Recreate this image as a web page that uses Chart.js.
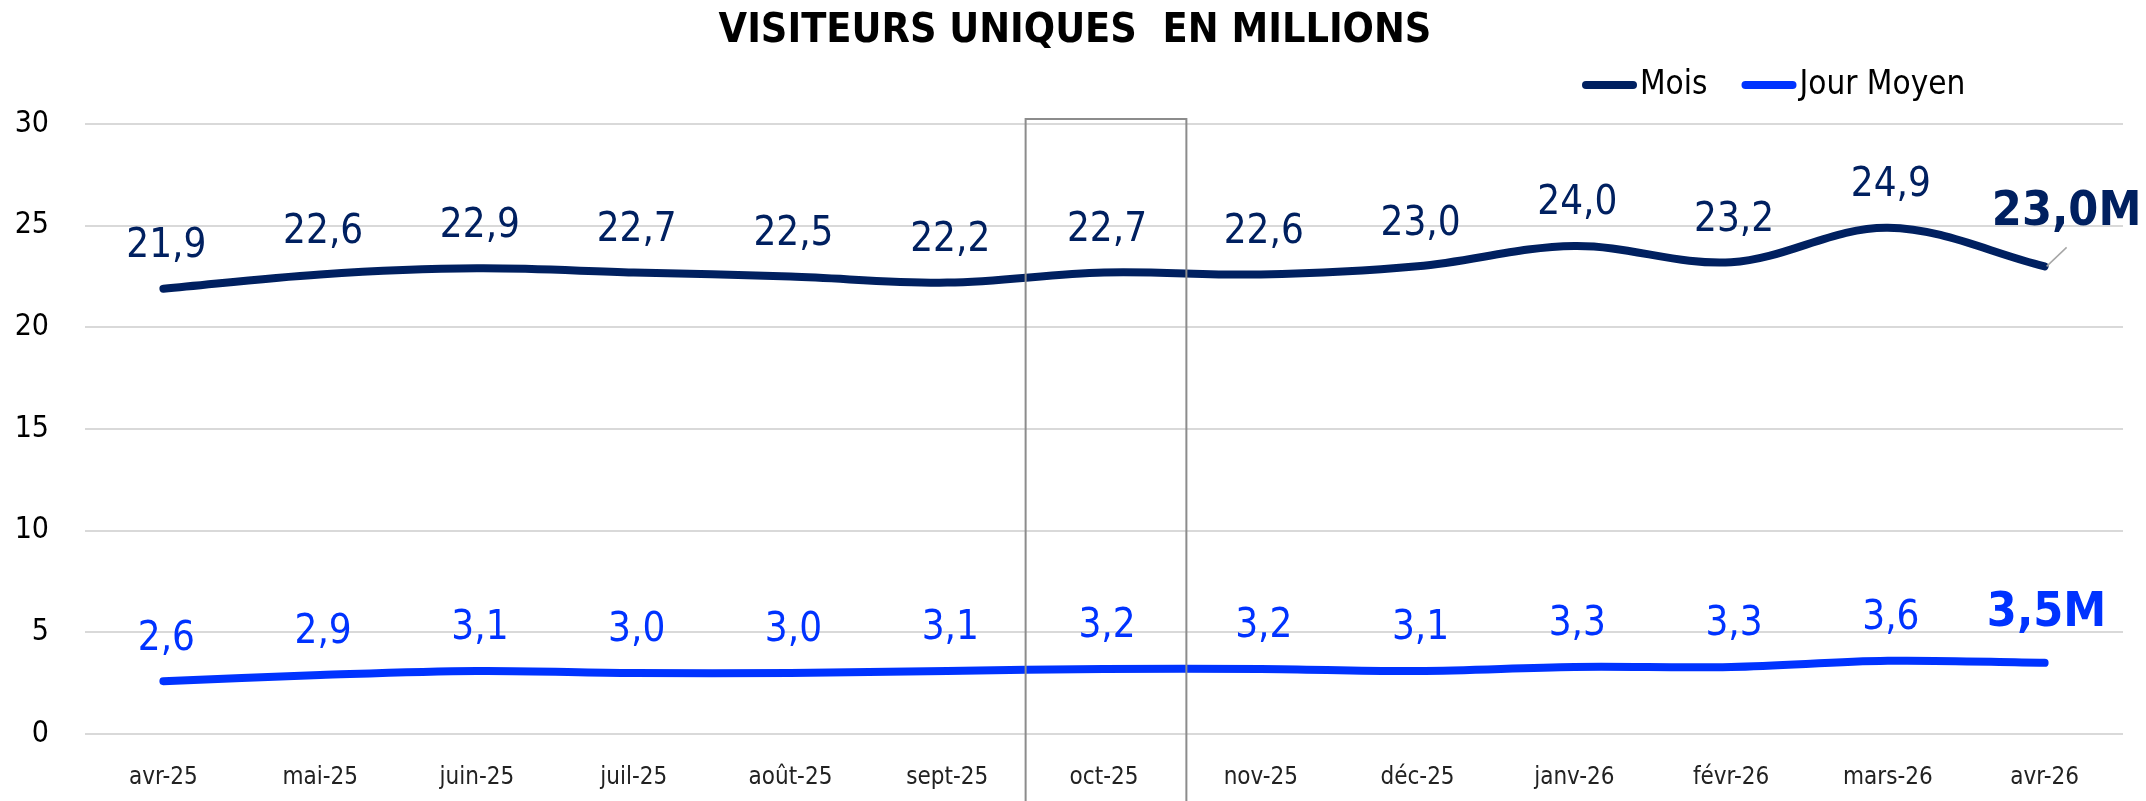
<html>
<head>
<meta charset="utf-8">
<title>Visiteurs uniques en millions</title>
<script src="https://cdn.jsdelivr.net/npm/chart.js@4.4.1/dist/chart.umd.min.js"></script>
<style>
  body { margin: 0; background: #fff; }
</style>
</head>
<body>
<canvas id="visiteursChart" width="2146" height="801"></canvas>
<script>
// donnees
var mois = ['avr-25', 'mai-25', 'juin-25', 'juil-25', 'août-25', 'sept-25', 'oct-25',
            'nov-25', 'déc-25', 'janv-26', 'févr-26', 'mars-26', 'avr-26'];
var visiteursMois = [21.9, 22.6, 22.9, 22.7, 22.5, 22.2, 22.7, 22.6, 23.0, 24.0, 23.2, 24.9, 23.0];
var visiteursJour = [2.6, 2.9, 3.1, 3.0, 3.0, 3.1, 3.2, 3.2, 3.1, 3.3, 3.3, 3.6, 3.5];
var nomsSeries = ['Mois', 'Jour Moyen'];
var couleurs = ['#002060', '#0033ff'];
var yTicks = [0, 5, 10, 15, 20, 25, 30];
var titre = 'VISITEURS UNIQUES  EN MILLIONS';
var moisEncadre = 'oct-25';

var FONT = '"DejaVu Sans Condensed", "Open Sans", sans-serif';

function fmt(v) {
  return v.toFixed(1).replace('.', ',');
}

// titre centre sur la page
var titrePlugin = {
  id: 'titre',
  afterDraw: function(chart) {
    var ctx = chart.ctx;
    ctx.save();
    ctx.font = 'bold 41px ' + FONT;
    ctx.fillStyle = '#000';
    ctx.textAlign = 'center';
    ctx.textBaseline = 'middle';
    ctx.fillText(titre, 1075, 31);
    ctx.restore();
  }
};

// encadre gris autour du mois mis en avant
var encadrePlugin = {
  id: 'encadre',
  afterDatasetsDraw: function(chart) {
    var ctx = chart.ctx, x = chart.scales.x, y = chart.scales.y;
    var i = mois.indexOf(moisEncadre);
    var cx = x.getPixelForValue(i);
    var half = (x.getPixelForValue(1) - x.getPixelForValue(0)) / 2;
    var top = y.getPixelForValue(yTicks[yTicks.length - 1]) - 5;
    ctx.save();
    ctx.strokeStyle = '#8c8c8c';
    ctx.lineWidth = 2;
    ctx.beginPath();
    ctx.moveTo(cx - half, chart.height);
    ctx.lineTo(cx - half, top);
    ctx.lineTo(cx + half + 4, top);
    ctx.lineTo(cx + half + 4, chart.height);
    ctx.stroke();
    ctx.restore();
  }
};

// valeurs au-dessus des points, la derniere en gras
var etiquettesPlugin = {
  id: 'etiquettes',
  afterDatasetsDraw: function(chart) {
    var ctx = chart.ctx;
    ctx.save();
    ctx.textAlign = 'center';
    ctx.textBaseline = 'middle';
    chart.data.datasets.forEach(function(ds, d) {
      var meta = chart.getDatasetMeta(d);
      meta.data.forEach(function(pt, i) {
        var v = ds.data[i];
        ctx.fillStyle = ds.borderColor;
        if (i < ds.data.length - 1) {
          ctx.font = '40px ' + FONT;
          ctx.fillText(fmt(v), pt.x + 3, pt.y - 42);
        } else {
          ctx.font = 'bold 48px ' + FONT;
          if (d === 0) {
            ctx.strokeStyle = '#a6a6a6';
            ctx.lineWidth = 1.5;
            ctx.beginPath();
            ctx.moveTo(pt.x + 2, pt.y);
            ctx.lineTo(pt.x + 22, pt.y - 19);
            ctx.stroke();
            ctx.fillText(fmt(v) + 'M', pt.x + 22, pt.y - 54);
          } else {
            ctx.fillText(fmt(v) + 'M', pt.x + 2, pt.y - 49);
          }
        }
      });
    });
    ctx.restore();
  }
};

// legende en haut a droite
var legendePlugin = {
  id: 'legende',
  afterDraw: function(chart) {
    var ctx = chart.ctx;
    var x = 1583, y = 85;
    ctx.save();
    ctx.font = '33px ' + FONT;
    ctx.textBaseline = 'middle';
    ctx.textAlign = 'left';
    chart.data.datasets.forEach(function(ds) {
      ctx.strokeStyle = ds.borderColor;
      ctx.lineWidth = 8;
      ctx.lineCap = 'round';
      ctx.beginPath();
      ctx.moveTo(x + 3, y);
      ctx.lineTo(x + 50, y);
      ctx.stroke();
      ctx.fillStyle = '#000';
      ctx.fillText(ds.label, x + 57, y);
      x += 57 + ctx.measureText(ds.label).width + 35;
    });
    ctx.restore();
  }
};

var ctx = document.getElementById('visiteursChart').getContext('2d');
var chart = new Chart(ctx, {
  type: 'line',
  data: {
    labels: mois,
    datasets: [{
      label: nomsSeries[0],
      data: visiteursMois,
      borderColor: couleurs[0],
      backgroundColor: couleurs[0],
      borderWidth: 8,
      borderCapStyle: 'round',
      tension: 0.35,
      pointRadius: 0
    }, {
      label: nomsSeries[1],
      data: visiteursJour,
      borderColor: couleurs[1],
      backgroundColor: couleurs[1],
      borderWidth: 8,
      borderCapStyle: 'round',
      tension: 0.35,
      pointRadius: 0
    }]
  },
  options: {
    responsive: false,
    animation: false,
    devicePixelRatio: 1,
    layout: { padding: { left: 0, right: 23, top: 124, bottom: 0 } },
    plugins: {
      legend: { display: false },
      tooltip: { enabled: false },
      title: { display: false }
    },
    scales: {
      x: {
        offset: true,
        grid: { display: false },
        border: { display: false },
        ticks: { color: '#222', font: { family: FONT, size: 24 }, padding: 21, maxRotation: 0, autoSkip: false },
        afterFit: function(s) { s.height = 67; }
      },
      y: {
        min: 0,
        max: 30,
        grid: { color: '#d9d9d9', lineWidth: 2, drawTicks: false },
        border: { display: false },
        ticks: { stepSize: 5, color: '#000', font: { family: FONT, size: 30 }, padding: 36 },
        afterFit: function(s) { s.width = 85; }
      }
    }
  },
  plugins: [titrePlugin, encadrePlugin, etiquettesPlugin, legendePlugin]
});
</script>
</body>
</html>
